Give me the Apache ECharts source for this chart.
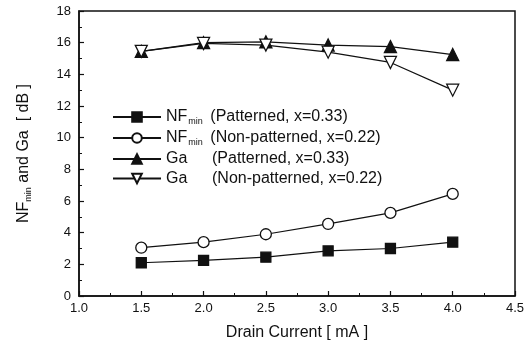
<!DOCTYPE html>
<html>
<head>
<meta charset="utf-8">
<script src="https://cdn.jsdelivr.net/npm/echarts@6/dist/echarts.min.js"></script>
<style>
  html, body { margin: 0; padding: 0; background: #fff; }
  #chart { width: 529px; height: 347px; }
</style>
</head>
<body>
<div id="chart"></div>
<script>
// drain current [mA]
const current = [1.5, 2.0, 2.5, 3.0, 3.5, 4.0];

// NFmin and Ga [dB]
const nfPatterned = [2.1, 2.25, 2.45, 2.85, 3.0, 3.4];
const nfNonPatterned = [3.05, 3.4, 3.9, 4.55, 5.25, 6.45];
const gaPatterned = [15.45, 16.0, 16.05, 15.85, 15.75, 15.25];
const gaNonPatterned = [15.45, 15.95, 15.85, 15.4, 14.75, 13.0];

const seriesNames = [
  'NF (Patterned, x=0.33)',
  'NF (Non-patterned, x=0.22)',
  'Ga (Patterned, x=0.33)',
  'Ga (Non-patterned, x=0.22)'
];
const legendLabels = [
  '{n|NF}{s|min}{t|(Patterned, x=0.33)}',
  '{n|NF}{s|min}{t|(Non-patterned, x=0.22)}',
  '{g|Ga}{t|(Patterned, x=0.33)}',
  '{g|Ga}{t|(Non-patterned, x=0.22)}'
];

const pair = (ys) => current.map((x, i) => [x, ys[i]]);

const chart = echarts.init(document.getElementById('chart'));

const font = 'Liberation Sans, Arial, sans-serif';
const downTriangle = 'path://M0,0 L10,0 L5,9 Z';

function lineSeries(name, ys, symbol, size, filled) {
  return {
    name: name,
    type: 'line',
    data: pair(ys),
    symbol: symbol,
    symbolSize: size,
    lineStyle: { color: '#111', width: 1.2 },
    itemStyle: {
      color: filled ? '#111' : '#fff',
      borderColor: '#111',
      borderWidth: 1.3
    },
    z: filled ? 3 : 4
  };
}

const option = {
  animation: false,
  backgroundColor: '#fff',
  grid: {
    left: 79,
    right: 14,
    top: 11,
    bottom: 51,
    show: true,
    borderColor: '#111',
    borderWidth: 1.5
  },
  legend: {
    orient: 'vertical',
    left: 107,
    top: 104,
    itemWidth: 48,
    itemHeight: 12,
    itemGap: 3.5,
    data: seriesNames,
    formatter: (name) => legendLabels[seriesNames.indexOf(name)],
    textStyle: {
      fontFamily: font,
      color: '#111',
      rich: {
        n: { fontSize: 16, fontFamily: font, color: '#111', padding: [0, 1, 0, 0] },
        s: { fontSize: 9, fontFamily: font, color: '#111', padding: [10, 0, 0, 0], width: 22 },
        g: { fontSize: 16, fontFamily: font, color: '#111', width: 46 },
        t: { fontSize: 16, fontFamily: font, color: '#111' }
      }
    }
  },
  xAxis: {
    type: 'value',
    min: 1.0,
    max: 4.5,
    interval: 0.5,
    name: 'Drain Current [ mA ]',
    nameLocation: 'middle',
    nameGap: 29,
    nameTextStyle: { fontFamily: font, fontSize: 16, color: '#111' },
    axisLine: { lineStyle: { color: '#111', width: 1.5 } },
    axisTick: { inside: true, length: 5, lineStyle: { color: '#111', width: 1.2 } },
    minorTick: { show: true, splitNumber: 2, length: 3, lineStyle: { color: '#111' } },
    axisLabel: {
      fontFamily: font,
      fontSize: 13,
      color: '#111',
      margin: 6,
      formatter: (v) => v.toFixed(1)
    },
    splitLine: { show: false }
  },
  yAxis: {
    type: 'value',
    min: 0,
    max: 18,
    interval: 2,
    name: '{n|NF}{s|min}{n| and Ga  [ dB ]}',
    nameLocation: 'middle',
    nameRotate: 90,
    nameGap: 46,
    nameTextStyle: {
      fontFamily: font,
      color: '#111',
      rich: {
        n: { fontSize: 16, fontFamily: font, color: '#111' },
        s: { fontSize: 9, fontFamily: font, color: '#111', padding: [10, 0, 0, 0] }
      }
    },
    axisLine: { lineStyle: { color: '#111', width: 1.5 } },
    axisTick: { inside: true, length: 5, lineStyle: { color: '#111', width: 1.2 } },
    minorTick: { show: true, splitNumber: 2, length: 3, lineStyle: { color: '#111' } },
    axisLabel: { fontFamily: font, fontSize: 13, color: '#111', margin: 8 },
    splitLine: { show: false }
  },
  series: [
    lineSeries(seriesNames[0], nfPatterned, 'rect', 10, true),
    lineSeries(seriesNames[1], nfNonPatterned, 'circle', 11, false),
    lineSeries(seriesNames[2], gaPatterned, 'triangle', 12, true),
    lineSeries(seriesNames[3], gaNonPatterned, downTriangle, 12, false)
  ]
};

chart.setOption(option);
</script>
</body>
</html>
